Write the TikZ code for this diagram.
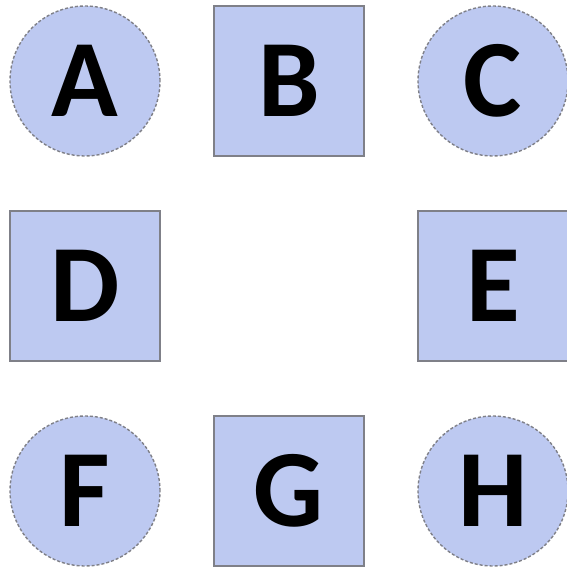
\documentclass[tikz,border=0pt]{standalone}
\usepackage{fontspec}
\setmainfont{Carlito}
\definecolor{ShapeFill}{HTML}{BDC9F1}
\definecolor{ShapeLine}{HTML}{7F8088}
\usetikzlibrary{positioning}

\begin{document}
\begin{tikzpicture}[
    x=1pt,y=-1pt,
    every node/.style={fill=ShapeFill,draw=ShapeLine,line width=1.4pt,
      inner sep=0pt,font=\fontsize{110}{110}\bfseries\selectfont},
    roundbox/.style={circle,minimum size=150pt,dash pattern=on 3pt off 2pt},
    squarebox/.style={rectangle,minimum size=150pt}
  ]
    \useasboundingbox (0,0) rectangle (567,567);
    % top row
    \node[roundbox]  (A) at (85,81)  {A};
    \node[squarebox] (B) at (289,81) {B};
    \node[roundbox]  (C) at (493,81) {C};
    % middle row
    \node[squarebox] (D) at (85,286)  {D};
    \node[squarebox] (E) at (493,286) {E};
    % bottom row
    \node[roundbox]  (F) at (85,491)  {F};
    \node[squarebox] (G) at (289,491) {G};
    \node[roundbox]  (H) at (493,491) {H};
  \end{tikzpicture}
\end{document}
